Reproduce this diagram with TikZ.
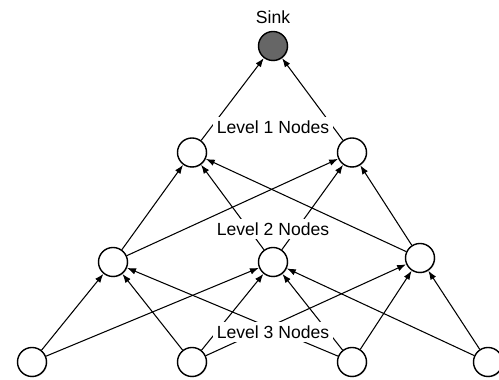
\documentclass[tikz,border=0pt]{standalone}
\usepackage{fontspec}
\setmainfont{Liberation Sans}
\usetikzlibrary{arrows.meta,shadows}
\begin{document}
\begin{tikzpicture}
%============================================================
%  Estilos dos nos e arcos
%============================================================
\tikzset{ % sem linhas em branco aqui!
    % ---  Define arcos ------
    >={Latex[length=1.8mm,width=1.3mm]},
    arco/.style={  %
            ->,    % seta no final do arco
            semithick
        },
    % ---  Define vertices ------
    vertice/.style={   %
            circle,    % formato circular
            thick,
            draw=black,
            fill=white,
            minimum size=0.58cm,
            inner sep=0pt,
            drop shadow={shadow xshift=0.5pt,shadow yshift=-0.5pt,opacity=0.35}
        },
    sorvedouro/.style={ %
            vertice,
            fill=black!60
        },
    rotulo/.style={     %
            fill=white, % cobre os arcos
            inner sep=2pt,
            font=\fontsize{10}{12}\selectfont
        },
}
   % area da figura
   \useasboundingbox (0,0) rectangle (9.98,7.6);

   % sorvedouro
   \node[sorvedouro] (sink) at (5.46,6.68) {};
   \node[rotulo] (sinktxt) at (5.46,7.26) {Sink};

   % nivel 1
   \node[vertice] (n1a) at (3.84,4.55) {};
   \node[vertice] (n1b) at (7.04,4.55) {};

   % nivel 2
   \node[vertice] (n2a) at (2.26,2.36) {};
   \node[vertice] (n2b) at (5.46,2.36) {};
   \node[vertice] (n2c) at (8.40,2.44) {};

   % nivel 3
   \node[vertice] (n3a) at (0.64,0.36) {};
   \node[vertice] (n3b) at (3.84,0.36) {};
   \node[vertice] (n3c) at (7.04,0.36) {};
   \node[vertice] (n3d) at (9.76,0.36) {};

   % arcos nivel 1 -> sorvedouro
   \draw[arco] (n1a) edge (sink);
   \draw[arco] (n1b) edge (sink);

   % arcos nivel 2 -> nivel 1
   \draw[arco] (n2a) edge (n1a);
   \draw[arco] (n2a) edge (n1b);
   \draw[arco] (n2b) edge (n1a);
   \draw[arco] (n2b) edge (n1b);
   \draw[arco] (n2c) edge (n1a);
   \draw[arco] (n2c) edge (n1b);

   % arcos nivel 3 -> nivel 2
   \draw[arco] (n3a) edge (n2a);
   \draw[arco] (n3a) edge (n2b);
   \draw[arco] (n3b) edge (n2a);
   \draw[arco] (n3b) edge (n2b);
   \draw[arco] (n3b) edge (n2c);
   \draw[arco] (n3c) edge (n2a);
   \draw[arco] (n3c) edge (n2b);
   \draw[arco] (n3c) edge (n2c);
   \draw[arco] (n3d) edge (n2b);
   \draw[arco] (n3d) edge (n2c);

   % rotulos dos niveis (por cima dos arcos)
   \node[rotulo] (nivel1) at (5.46,5.06) {Level 1 Nodes};
   \node[rotulo] (nivel2) at (5.46,3.02) {Level 2 Nodes};
   \node[rotulo] (nivel3) at (5.46,0.96) {Level 3 Nodes};
\end{tikzpicture}
\end{document}
